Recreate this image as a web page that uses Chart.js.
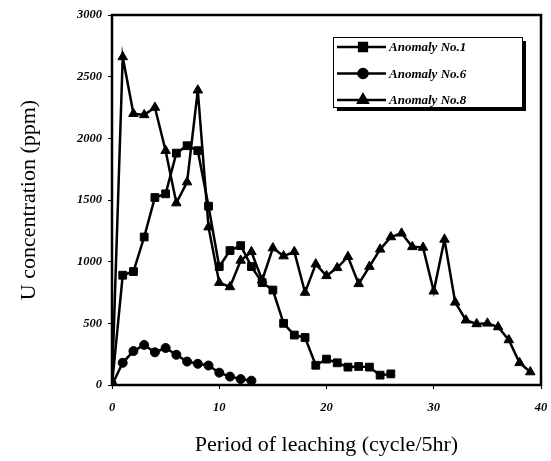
<!DOCTYPE html>
<html>
<head>
<meta charset="utf-8">
<script src="https://cdn.jsdelivr.net/npm/chart.js@4/dist/chart.umd.min.js"></script>
<style>
    body { margin: 0; background: #fff; }
    canvas { display: block; }
</style>
</head>
<body>
<canvas id="leaching-chart" width="551" height="461"></canvas>
<script>
// values, one entry per leaching cycle starting at cycle 0
const seriesNames = ['Anomaly No.1', 'Anomaly No.6', 'Anomaly No.8'];
const anomaly1 = [0, 890, 920, 1200, 1520, 1550, 1880, 1940, 1900, 1450, 960, 1090, 1130, 960, 830, 770, 500, 405, 385, 160, 210, 180, 145, 150, 145, 80, 90];
const anomaly6 = [0, 180, 275, 325, 265, 300, 245, 190, 172, 158, 100, 68, 48, 35];
const anomaly8 = [0, 2660, 2200, 2190, 2250, 1900, 1475, 1645, 2390, 1280, 830, 795, 1010, 1080, 850, 1110, 1045, 1080, 750, 980, 885, 950, 1040, 820, 960, 1100, 1200, 1230, 1120, 1115, 760, 1180, 670, 525, 495, 500, 470, 365, 180, 105];
const xTicks = [0, 10, 20, 30, 40];
const yTicks = [0, 500, 1000, 1500, 2000, 2500, 3000];

const tickFont = {family: '"Liberation Serif", "DejaVu Serif", serif', size: 12.5, style: 'italic', weight: 'bold'};
const titleFont = {family: '"Liberation Serif", "DejaVu Serif", serif', size: 22};

function toPoints(values) {
    return values.map((v, i) => ({x: i, y: v}));
}

const markerStyles = ['rect', 'circle', 'triangle'];
const markerRadius = [5.5, 4.5, 5.5];

// frame around the plot area
const frameBox = {
    id: 'frameBox',
    afterDatasetsDraw(chart) {
        const {ctx, chartArea} = chart;
        ctx.save();
        ctx.strokeStyle = '#000';
        ctx.lineWidth = 2.5;
        ctx.strokeRect(chartArea.left, chartArea.top, chartArea.right - chartArea.left, chartArea.bottom - chartArea.top);
        ctx.restore();
    }
};

// boxed legend with a drop shadow, top right of the plot
const boxLegend = {
    id: 'boxLegend',
    afterDraw(chart) {
        const {ctx} = chart;
        const x = 333, y = 37, w = 189, h = 70;
        ctx.save();
        ctx.fillStyle = '#000';
        ctx.fillRect(x + 4, y + 4, w, h);
        ctx.fillStyle = '#fff';
        ctx.fillRect(x, y, w, h);
        ctx.strokeStyle = '#000';
        ctx.lineWidth = 1;
        ctx.strokeRect(x + 0.5, y + 0.5, w, h);
        ctx.font = 'italic bold 13px "Liberation Serif", serif';
        ctx.textBaseline = 'middle';
        chart.data.datasets.forEach((ds, i) => {
            const ly = y + 10 + i * 26.5;
            ctx.beginPath();
            ctx.lineWidth = 2.5;
            ctx.moveTo(x + 4, ly);
            ctx.lineTo(x + 53, ly);
            ctx.stroke();
            Chart.helpers.drawPoint(ctx, {pointStyle: ds.pointStyle, radius: ds.pointRadius, borderWidth: 1}, x + 30, ly);
            ctx.fillStyle = '#000';
            ctx.fill();
            ctx.fillText(ds.label, x + 56, ly + 1);
        });
        ctx.restore();
    }
};

const datasets = [anomaly1, anomaly6, anomaly8].map((values, i) => ({
    label: seriesNames[i],
    data: toPoints(values),
    borderColor: '#000',
    backgroundColor: '#000',
    borderWidth: 2.5,
    pointStyle: markerStyles[i],
    pointRadius: markerRadius[i],
    pointBorderWidth: 1,
    tension: 0,
}));

new Chart(document.getElementById('leaching-chart').getContext('2d'), {
    type: 'line',
    data: {datasets: datasets},
    options: {
        responsive: false,
        animation: false,
        layout: {padding: {left: 0, right: 10, top: 15, bottom: 0}},
        plugins: {
            legend: {display: false},
            tooltip: {enabled: false},
        },
        scales: {
            x: {
                type: 'linear',
                min: 0,
                max: 40,
                afterBuildTicks: (scale) => { scale.ticks = xTicks.map(v => ({value: v})); },
                afterFit: (scale) => {
                    scale.height = 76;
                    scale.paddingLeft = 0;
                    scale.paddingRight = 0;
                },
                grid: {display: true, drawOnChartArea: false, drawTicks: true, tickLength: 4, color: '#000'},
                border: {display: false},
                ticks: {color: '#000', font: tickFont, padding: 11, maxRotation: 0, callback: (v) => String(v)},
                title: {display: true, text: 'Period of leaching (cycle/5hr)', color: '#000', font: titleFont, padding: {top: 0, bottom: 3}},
            },
            y: {
                min: 0,
                max: 3000,
                afterBuildTicks: (scale) => { scale.ticks = yTicks.map(v => ({value: v})); },
                afterFit: (scale) => {
                    scale.width = 112;
                    scale.paddingTop = 0;
                    scale.paddingBottom = 0;
                },
                grid: {display: true, drawOnChartArea: false, drawTicks: true, tickLength: 4, color: '#000'},
                border: {display: false},
                ticks: {color: '#000', font: tickFont, padding: 6, callback: (v) => String(v)},
                title: {display: true, text: 'U concentration (ppm)', color: '#000', font: titleFont, padding: {top: 16, bottom: 0}},
            }
        }
    },
    plugins: [frameBox, boxLegend]
});
</script>
</body>
</html>
